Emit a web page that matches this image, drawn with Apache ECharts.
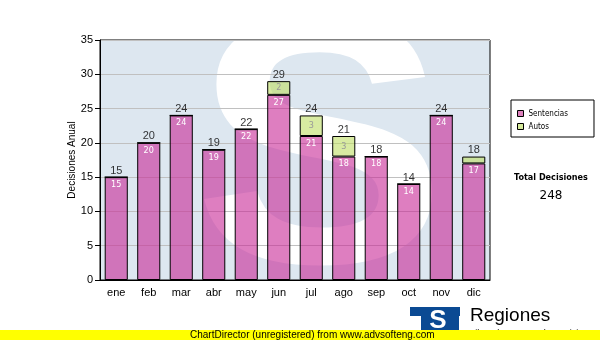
<!DOCTYPE html>
<html>
<head>
<meta charset="utf-8">
<script src="https://cdn.jsdelivr.net/npm/echarts@6/dist/echarts.min.js"></script>
<style>html,body{margin:0;padding:0;background:#fff}#c{width:600px;height:340px}</style>
</head>
<body>
<div id="c"></div>
<script>
const categories = ['ene','feb','mar','abr','may','jun','jul','ago','sep','oct','nov','dic'];
const sentencias = [15,20,24,19,22,27,21,18,18,14,24,17];
const autos = [0,0,0,0,0,2,3,3,0,0,0,1];
const yTicks = [0,5,10,15,20,25,30,35];
const totalLabel = 'Total Decisiones';
const totals = categories.map((c,i)=>sentencias[i]+autos[i]);
const grandTotal = totals.reduce((a,b)=>a+b,0);

const chart = echarts.init(document.getElementById('c'), null, {renderer:'canvas'});
const COND = '"DejaVu Sans Condensed","DejaVu Sans",sans-serif';
const ARIAL = '"Liberation Sans",Arial,sans-serif';

chart.setOption({
  animation:false,
  grid:{left:100,right:110,top:40,bottom:60,show:true,borderColor:'#000',borderWidth:1,backgroundColor:'transparent'},
  legend:{
    orient:'vertical', left:511, top:100,
    padding:[8,26,5,6], itemWidth:6, itemHeight:6, itemGap:2, itemTextGap:4,
    borderColor:'#000', borderWidth:1, icon:'rect',
    textStyle:{fontFamily:COND,fontSize:8,color:'#000',lineHeight:11},
    itemStyle:{borderColor:'#000',borderWidth:1},
    data:[{name:'Sentencias',itemStyle:{color:'#dd80bd'}},{name:'Autos',itemStyle:{color:'#d6ea9c'}}]
  },
  xAxis:{
    type:'category', data:categories,
    axisLine:{lineStyle:{color:'#000',width:1}},
    axisTick:{alignWithLabel:true,length:5,lineStyle:{color:'#000'}},
    axisLabel:{color:'#000',fontFamily:ARIAL,fontSize:11,margin:7},
    splitLine:{show:false}
  },
  yAxis:{
    type:'value', min:yTicks[0], max:yTicks[yTicks.length-1], interval:5,
    name:'Decisiones Anual', nameLocation:'middle', nameGap:23, nameMoveOverlap:false,
    nameTextStyle:{fontFamily:ARIAL,fontSize:10,color:'#000'},
    axisLine:{show:true,lineStyle:{color:'#000'}},
    axisTick:{show:true,length:5,lineStyle:{color:'#000'}},
    axisLabel:{color:'#000',fontFamily:ARIAL,fontSize:11,margin:7},
    splitLine:{lineStyle:{color:'#c0c0c0',width:1}}
  },
  series:[
    {name:'Sentencias',type:'bar',stack:'t',data:sentencias,barCategoryGap:'29%',
     itemStyle:{color:'rgba(200,40,150,0.6)',borderColor:'#000',borderWidth:1},
     label:{show:true,position:'insideTop',distance:3,color:'#fff',fontFamily:COND,fontSize:9}},
    {name:'Autos',type:'bar',stack:'t',data:autos,
     itemStyle:{color:'rgba(190,222,100,0.6)',borderColor:'#000',borderWidth:1},
     label:{show:true,position:'inside',color:'#999',fontFamily:COND,fontSize:9,
       formatter:p=>p.value>=2?String(p.value):''}},
    {name:'Total',type:'scatter',data:totals,symbolSize:0,
     label:{show:true,position:'top',distance:1,color:'#000',fontFamily:ARIAL,fontSize:11},
     tooltip:{show:false}}
  ],
  graphic:[
    {type:'rect',z:-10,shape:{x:100,y:40,width:390,height:240},style:{fill:'#dde7f0'}},
    {type:'text',z:-9,x:320,y:165,scaleX:1.08,style:{text:'S',font:'bold 352px "Liberation Sans"',fill:'#fff',textAlign:'center',textVerticalAlign:'middle'}},
    {type:'text',z:100,x:551,y:178,style:{text:totalLabel,font:'bold 9px "DejaVu Sans Condensed","DejaVu Sans"',fill:'#000',textAlign:'center',textVerticalAlign:'middle'}},
    {type:'text',z:100,x:551,y:196,style:{text:String(grandTotal),font:'12px "DejaVu Sans"',fill:'#000',textAlign:'center',textVerticalAlign:'middle'}},
    {type:'rect',z:100,shape:{x:410,y:307,width:50,height:9},style:{fill:'#0b4a93'}},
    {type:'rect',z:100,shape:{x:421,y:316,width:38,height:18},style:{fill:'#0b4a93'}},
    {type:'text',z:101,x:438,y:321,style:{text:'S',font:'bold 26px "Liberation Sans"',fill:'#fff',textAlign:'center',textVerticalAlign:'middle'}},
    {type:'text',z:100,x:470,y:316,style:{text:'Regiones',font:'19px "Liberation Sans"',fill:'#000',textAlign:'left',textVerticalAlign:'middle'}},
    {type:'text',z:100,x:467,y:334,style:{text:'Tribunal Supremo de Justicia',font:'9px "Liberation Sans"',fill:'#000',textAlign:'left',textVerticalAlign:'middle'}},
    {type:'rect',z:110,shape:{x:0,y:330,width:600,height:10},style:{fill:'#ffff00'}},
    {type:'text',z:111,x:190,y:335,style:{text:'ChartDirector (unregistered) from www.advsofteng.com',font:'10px "Liberation Sans"',fill:'#000',textAlign:'left',textVerticalAlign:'middle'}}
  ]
});
</script>
</body>
</html>
